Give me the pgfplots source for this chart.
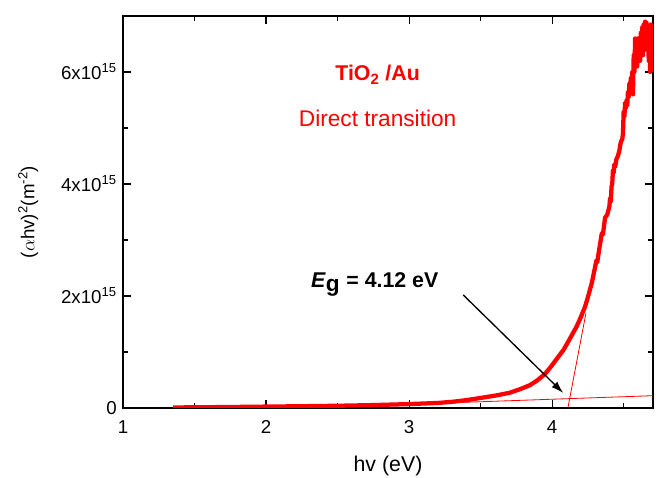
\documentclass[border=0pt]{standalone}
\usepackage{pgfplots}
\pgfplotsset{compat=1.18}
\usetikzlibrary{arrows.meta}
\usepackage{fontspec}
\setmainfont{Liberation Sans}
\begin{document}
\begin{tikzpicture}
\fontsize{13.5}{16}\selectfont
\useasboundingbox (-92.25pt,-52.5pt) rectangle (400.5pt,306pt);
\begin{axis}[
  at={(0,0)}, anchor=south west,
  scale only axis, width=397.5pt, height=294pt,
  xmin=1, xmax=4.705, ymin=0, ymax=7,
  xtick={1,2,3,4}, minor xtick={1.5,2.5,3.5,4.5},
  ytick={0,2,4,6}, minor ytick={1,3,5},
  yticklabels={0,2x10\textsuperscript{15},4x10\textsuperscript{15},6x10\textsuperscript{15}},
  /pgf/number format/assume math mode=true,
  tick align=inside, major tick length=6pt, minor tick length=4pt,
  every tick/.style={black, line width=0.9pt},
  axis line style={line width=1.1pt},
  tick label style={font=\fontsize{14}{16}\selectfont},
  xticklabel style={yshift=-5pt},
  xlabel={hv (eV)},
  ylabel={($\alpha$hv)\textsuperscript{2}(m\textsuperscript{-2})},
  xlabel style={yshift=-7pt, font=\fontsize{16}{18}\selectfont},
  ylabel style={yshift=8pt, font=\fontsize{14}{16}\selectfont},
  clip=true,
]
\addplot[red, line width=3.2pt, line join=round] coordinates {
(1.35,0.01) (1.5,0.012) (1.75,0.018) (2.0,0.025) (2.25,0.032) (2.5,0.04) (2.75,0.052)
(3.0,0.07) (3.1,0.08) (3.2,0.09) (3.3,0.11) (3.4,0.14) (3.5,0.18) (3.6,0.22)
(3.7,0.27) (3.78,0.34) (3.846,0.41) (3.9,0.5) (3.95,0.61) (3.986,0.72) (4.03,0.87)
(4.08,1.04) (4.12,1.22) (4.17,1.45) (4.2,1.62) (4.23,1.81) (4.25,1.98) (4.277,2.23)
(4.31,2.64) (4.315,2.6) (4.33,2.85) (4.347,3.12) (4.355,3.1) (4.37,3.4) (4.385,3.45)
(4.40,3.6) (4.405,3.75) (4.41,3.68) (4.415,3.95) (4.42,4.0) (4.425,4.25) (4.43,4.2)
(4.435,4.35) (4.44,4.3) (4.45,4.45) (4.46,4.5) (4.47,4.6) (4.48,4.75) (4.49,4.8)
(4.495,4.9) (4.50,5.3) (4.505,5.2) (4.51,5.45) (4.515,5.35) (4.52,5.5) (4.525,5.4)
(4.53,5.65) (4.535,5.55) (4.54,5.8) (4.545,5.7) (4.55,5.9) (4.555,5.75) (4.56,6.0)
(4.565,5.6) (4.57,6.3) (4.575,6.0) (4.58,6.6) (4.585,6.2) (4.59,6.5) (4.595,6.1)
(4.60,6.6) (4.605,6.3) (4.61,6.55) (4.615,6.2) (4.62,6.7) (4.625,6.4) (4.63,6.8)
(4.635,6.3) (4.64,6.85) (4.645,6.5) (4.65,6.9) (4.655,6.4) (4.66,6.88) (4.665,6.6)
(4.67,6.8) (4.675,6.2) (4.68,6.7) (4.685,6.0) (4.69,6.85) (4.695,6.3) (4.70,6.0)
};
\addplot[red, line width=0.6pt] coordinates {(3.0,0.067) (4.705,0.22)};
\addplot[red, line width=0.6pt] coordinates {(4.11,0) (4.236,1.69)};
\addplot[black, line width=1pt, -{Latex[length=9pt,width=6pt]}] coordinates {(3.378,2.02) (4.077,0.27)};
\node[red, font=\bfseries\fontsize{16}{18}\selectfont] at (axis cs:2.78,5.95) {TiO\textsubscript{2} /Au};
\node[red, font=\fontsize{17}{19}\selectfont] at (axis cs:2.78,5.18) {Direct transition};
\node[black, font=\bfseries\fontsize{16}{18}\selectfont] at (axis cs:2.76,2.2) {\textit{E}\textsubscript{\fontsize{17}{18}\selectfont g} = 4.12 eV};
\end{axis}
\end{tikzpicture}
\end{document}
